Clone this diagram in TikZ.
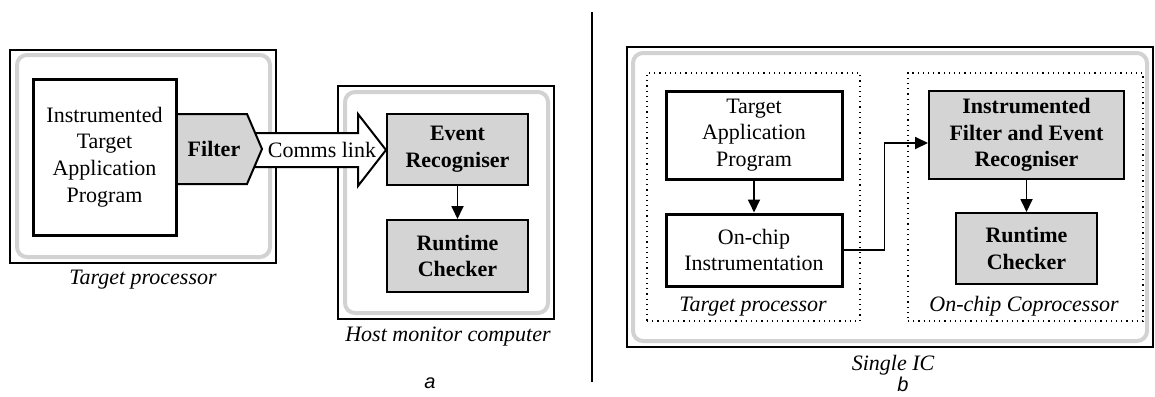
\documentclass[tikz,border=0pt]{standalone}
\usepackage{fontspec}
\setmainfont{Liberation Serif}
\setsansfont{Liberation Sans}
\usepackage{tikz}
\usetikzlibrary{arrows.meta, positioning, calc}
\definecolor{boxgray}{HTML}{D4D4D4}
\definecolor{rimgray}{HTML}{D2D2D2}

\begin{document}
\begin{tikzpicture}[x=0.5pt, y=-0.5pt, >={Triangle[length=6.5pt, width=6pt]},
    font=\rmfamily\fontsize{11}{13.3}\selectfont,
    shell/.style={draw, line width=1.1pt, inner sep=0pt},
    rim/.style={draw=rimgray, line width=2pt, rounded corners=5pt, inner sep=0pt},
    plainbox/.style={draw, line width=1.5pt, fill=white, inner sep=0pt, align=center},
    graybox/.style={draw, line width=1pt, fill=boxgray, inner sep=0pt, align=center, font=\rmfamily\fontsize{11}{13.3}\selectfont\bfseries},
    zone/.style={draw, dotted, line width=0.6pt, inner sep=0pt},
    caption/.style={font=\rmfamily\fontsize{11}{13.3}\selectfont\itshape},
    flow/.style={->, line width=0.9pt}]
    \useasboundingbox (0,0) rectangle (1155,396);

    % ── (a): Target processor and host ────────────────────────────────
    \node[shell, minimum width=133pt, minimum height=106.5pt] (tpa) at (143,156.5) {};
    \node[rim, minimum width=126.5pt, minimum height=101pt] (tpainner) at (143.5,156) {};
    \node[caption] (tpalabel) at (143,280) {Target processor};

    \node[shell, minimum width=108pt, minimum height=116.5pt] (host) at (446,202.5) {};
    \node[rim, minimum width=101.5pt, minimum height=110.5pt] (hostinner) at (446.5,202.5) {};
    \node[caption] (hostlabel) at (448,337) {Host monitor computer};

    % Comms link arrow (white, over the frames)
    \filldraw[fill=white, line width=1pt] (255,133) -- (358,133) -- (358,114) -- (386,150)
        -- (358,186) -- (358,167) -- (255,167) -- cycle;
    \node (comms) at (322,150) {Comms link};

    % Filter tab
    \filldraw[fill=boxgray, line width=1pt] (176,114) -- (247,114) -- (262,149)
        -- (247,184) -- (176,184) -- cycle;
    \node[font=\rmfamily\fontsize{11}{13.3}\selectfont\bfseries] (filter) at (214,149) {Filter};

    \node[plainbox, minimum width=71.5pt, minimum height=78pt] (prog) at (104.5,157)
        {Instrumented\\Target\\Application\\Program};

    \node[graybox, minimum width=70.5pt, minimum height=35.5pt] (er) at (457.5,149.5) {Event\\Recogniser};
    \node[graybox, minimum width=70.5pt, minimum height=36pt] (rc) at (457.5,256) {Runtime\\Checker};
    \draw[flow] (er) -- (rc);

    \node[font=\fontsize{10}{12}\selectfont\sffamily\itshape] (suba) at (430,383) {a};

    % separator
    \draw[line width=1.1pt] (592,12) coordinate (septop) -- (592,382) coordinate (sepbot);

    % ── (b): Single IC ────────────────────────────────────────────────
    \node[shell, minimum width=263pt, minimum height=150pt] (ic) at (890,197) {};
    \node[rim, minimum width=257pt, minimum height=144pt] (icinner) at (890,197) {};
    \node[caption] (iclabel) at (893,365) {Single IC};

    \node[zone, minimum width=106.5pt, minimum height=124pt] (tpb) at (753.5,197) {};
    \node[caption] (tpblabel) at (753,307) {Target processor};
    \node[plainbox, minimum width=88pt, minimum height=44pt] (tap) at (754,135) {Target\\Application\\Program};
    \node[plainbox, minimum width=88pt, minimum height=36pt] (oci) at (754,250) {On-chip\\Instrumentation};
    \draw[flow] (tap) -- (oci);

    \node[zone, minimum width=117.5pt, minimum height=124pt] (cop) at (1025.5,197) {};
    \node[caption] (coplabel) at (1024,306) {On-chip Coprocessor};
    \node[graybox, minimum width=97.5pt, minimum height=44pt] (ifer) at (1026.5,135)
        {Instrumented\\Filter and Event\\Recogniser};
    \node[graybox, minimum width=70.5pt, minimum height=35.5pt] (rcb) at (1026.5,248.5) {Runtime\\Checker};
    \draw[flow] (ifer) -- (rcb);

    \draw[flow] (oci.east) -- ++(41,0) |- ($(ifer.west)+(0,8)$);

    \node[font=\fontsize{10}{12}\selectfont\sffamily\itshape] (subb) at (903,384) {b};
\end{tikzpicture}
\end{document}
